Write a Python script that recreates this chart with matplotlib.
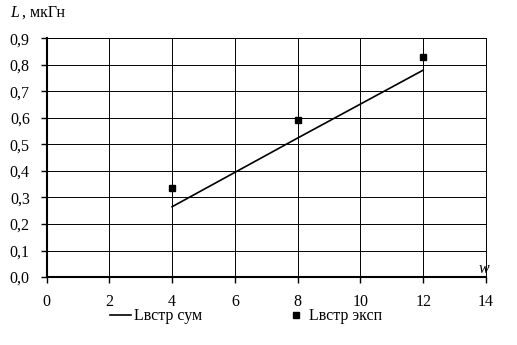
import matplotlib.pyplot as plt
from matplotlib.ticker import FuncFormatter

plt.rcParams['font.family'] = ['Liberation Serif', 'DejaVu Serif']

# data
w_sum = [4, 8, 12]
L_sum = [0.265, 0.524, 0.78]
w_exp = [4, 8, 12]
L_exp = [0.337, 0.592, 0.83]

fig = plt.figure(figsize=(5.17, 3.45), dpi=100)
ax = fig.add_axes([0.09, 0.197, 0.85, 0.692])

ax.plot(w_sum, L_sum, color='black', lw=1.2, label='Lвстр сум')
ax.plot(w_exp, L_exp, 's', color='black', ms=5, label='Lвстр эксп')

ax.set_xlim(0, 14)
ax.set_ylim(0, 0.9)
ax.set_xticks(range(0, 15, 2))
ax.set_yticks([i / 10 for i in range(10)])
ax.yaxis.set_major_formatter(FuncFormatter(lambda v, p: f'{v:.1f}'.replace('.', ',')))
ax.grid(True, color='black', lw=0.7)
ax.set_axisbelow(True)
ax.tick_params(labelsize=11.5, length=4, width=1, direction='out', pad=8)
for s in ['top', 'right']:
    ax.spines[s].set_linewidth(0.7)
for s in ['left', 'bottom']:
    ax.spines[s].set_linewidth(1.5)

fig.text(0.02, 0.962, 'L', fontsize=11.5, va='center', style='italic')
fig.text(0.043, 0.962, ', мкГн', fontsize=11.5, va='center')
fig.text(0.925, 0.22, 'w', fontsize=11.5, style='italic', va='center')

ax.legend(loc='center', bbox_to_anchor=(0.455, -0.165), ncol=2, frameon=False,
          fontsize=11.5, handlelength=1.3, handletextpad=0.2, columnspacing=5.2)

fig.savefig('out.png', dpi=100)
